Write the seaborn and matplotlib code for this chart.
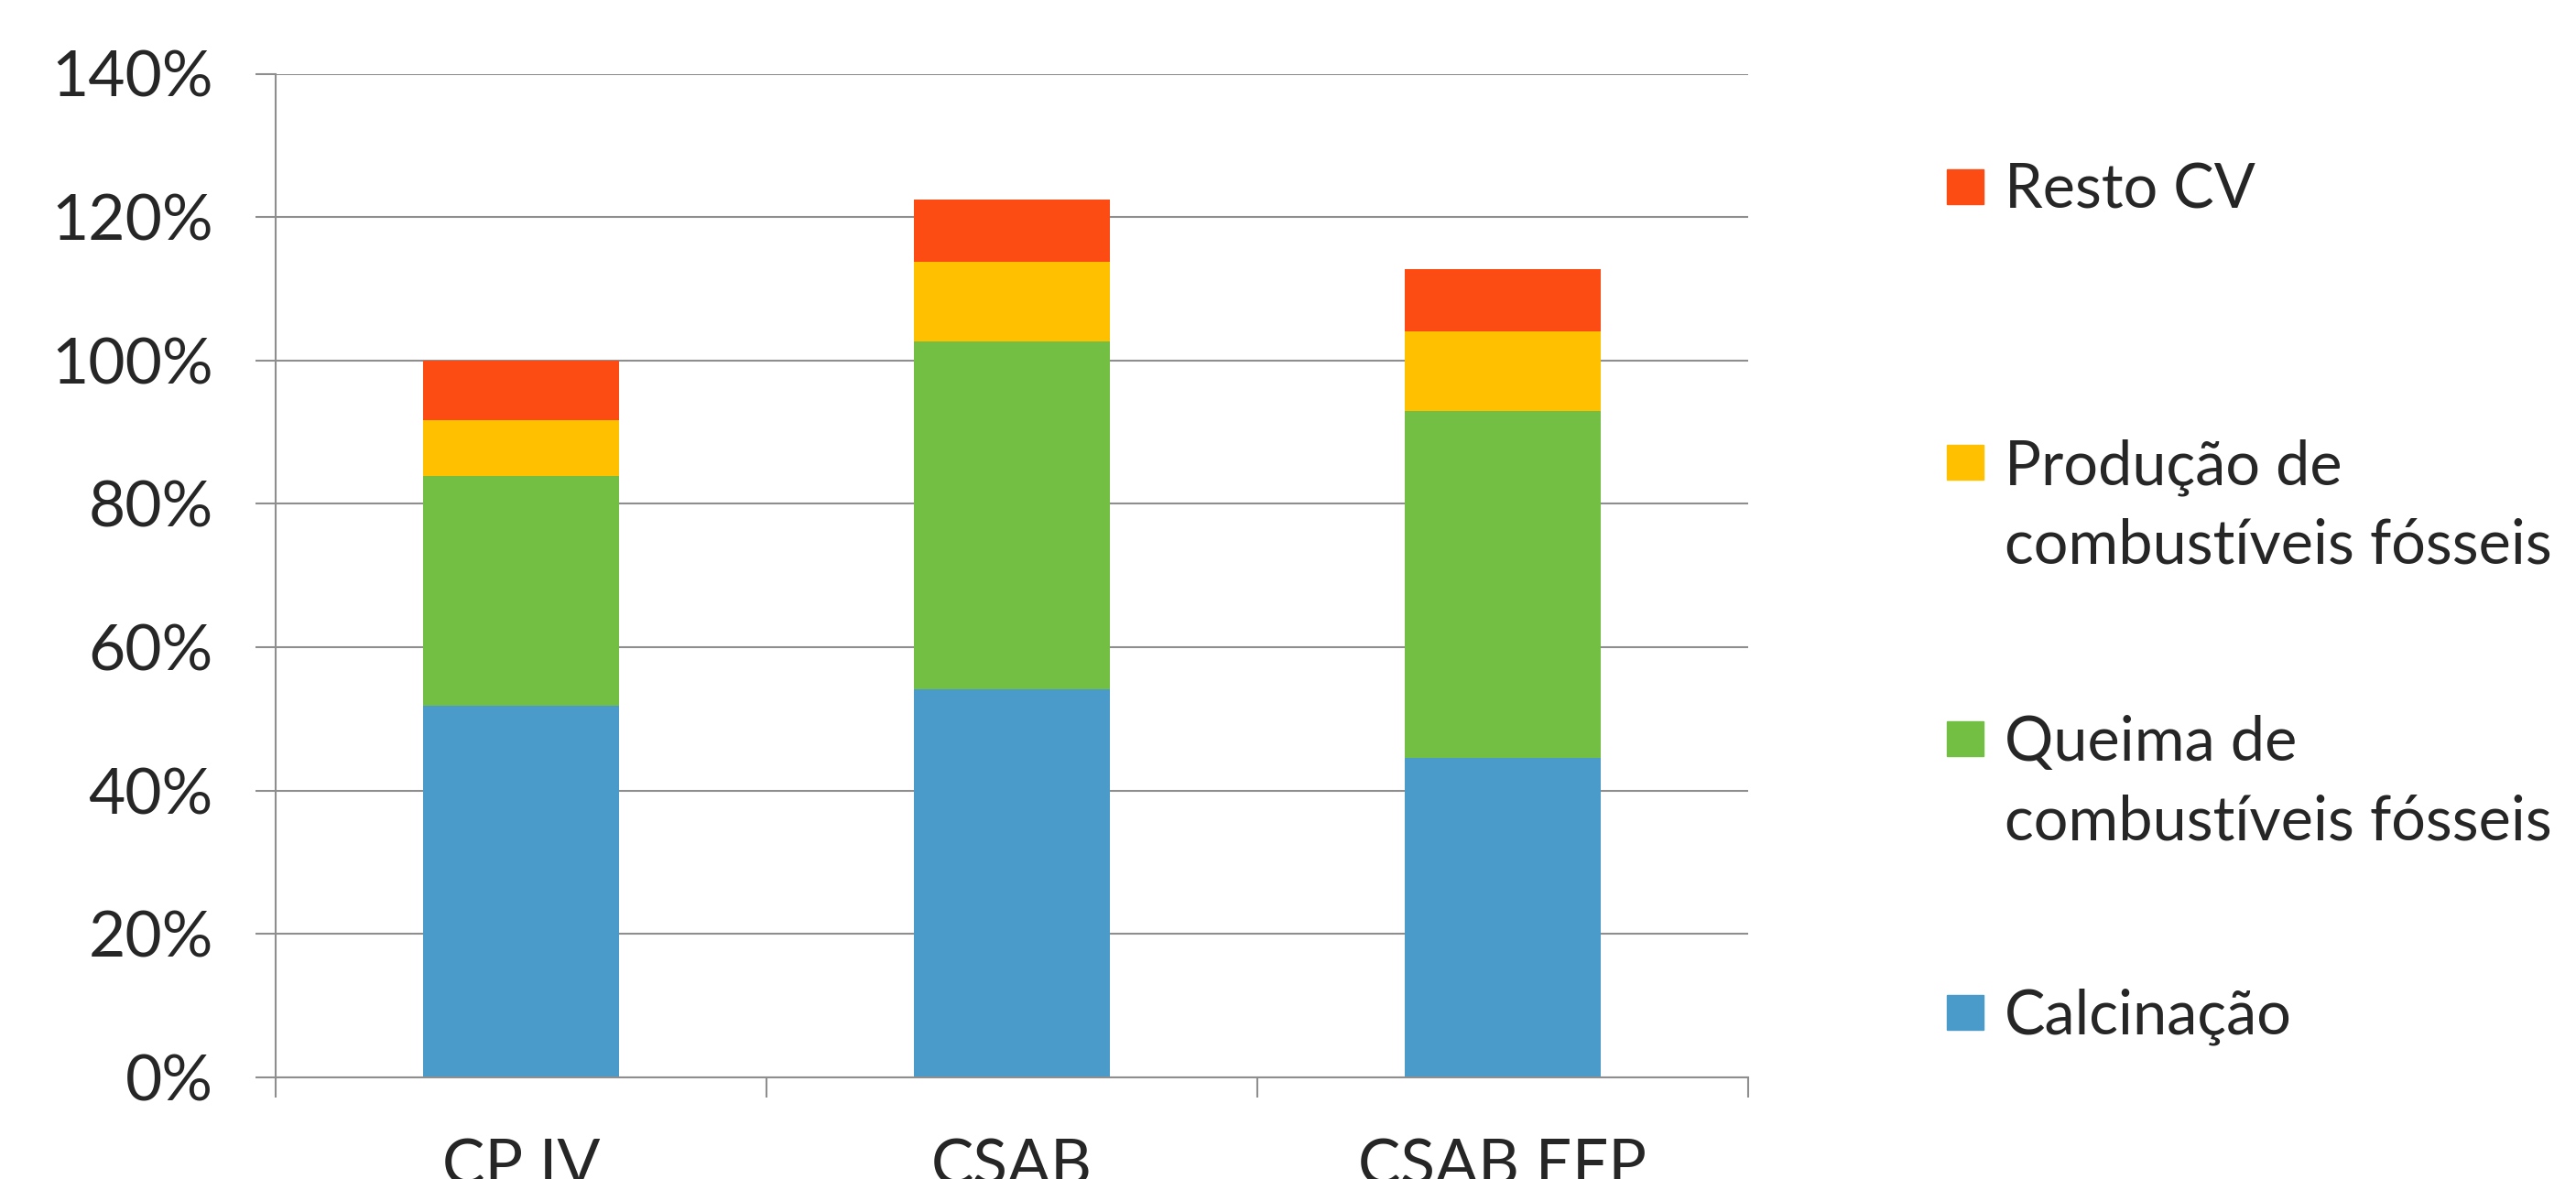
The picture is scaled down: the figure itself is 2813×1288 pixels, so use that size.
import matplotlib
matplotlib.use('Agg')
import matplotlib.pyplot as plt
import matplotlib.patches as mpatches
import seaborn as sns
import pandas as pd
import numpy as np

categories = ['CP IV', 'CSAB', 'CSAB EFP']
series = ['Calcinação', 'Queima de\ncombustíveis fósseis',
          'Produção de\ncombustíveis fósseis', 'Resto CV']
calcinacao = [51.8, 54.1, 44.5]
queima = [32.1, 48.6, 48.5]
producao = [7.8, 11.1, 11.1]
resto = [8.3, 8.6, 8.6]
colors = ['#4A9BC9', '#72BF44', '#FFC000', '#FC4C14']

sns.set_style('white')
plt.rcParams['font.family'] = ['Lato', 'DejaVu Sans']

values = np.array([calcinacao, queima, producao, resto])
cum = values.cumsum(axis=0)
df = pd.DataFrame({'cat': categories * 4,
                   'serie': np.repeat(range(4), 3),
                   'total': cum.flatten()})

fig = plt.figure(figsize=(28.13, 12.88), dpi=100)
ax = fig.add_axes([0.107, 0.0862, 0.5716, 0.8513])

grid_c = '#8E8E8E'
ax.set_axisbelow(True)
ax.yaxis.grid(True, color=grid_c, linewidth=1.5)

# draw cumulative totals from top to bottom so lower segments cover upper
for i in range(3, -1, -1):
    sub = df[df['serie'] == i]
    sns.barplot(data=sub, x='cat', y='total', color=colors[i], width=0.4,
                saturation=1, ax=ax, zorder=2, order=categories, linewidth=0)

ax.set_xlim(-0.5, 2.5)
ax.set_ylim(0, 140)
ax.set_yticks(range(0, 141, 20))
ax.set_yticklabels([f'{v}%' for v in range(0, 141, 20)])
ax.set_xticks([-0.5, 0.5, 1.5, 2.5])
ax.set_xticklabels([])
ax.set_xticks([0, 1, 2], minor=True)
ax.set_xticklabels(categories, minor=True)
ax.set_xlabel('')
ax.set_ylabel('')

ax.tick_params(axis='y', which='major', length=16, width=1.5, color=grid_c,
               labelsize=50, pad=33, left=True)
ax.tick_params(axis='x', which='major', length=16, width=1.5, color=grid_c,
               bottom=True)
ax.tick_params(axis='x', which='minor', length=0, labelsize=50, pad=48)

for s in ['top', 'right']:
    ax.spines[s].set_visible(False)
for s in ['left', 'bottom']:
    ax.spines[s].set_color(grid_c)
    ax.spines[s].set_linewidth(1.5)

# legend, top to bottom: Resto, Produção, Queima, Calcinação
W, H = 2813, 1288
baselines = [228, 529, 831, 1130]
order = [3, 2, 1, 0]
for b, i in zip(baselines, order):
    fig.add_artist(mpatches.Rectangle((2126 / W, 1 - (b - 5) / H), 40 / W, 38 / H,
                                      transform=fig.transFigure, color=colors[i]))
    for k, line in enumerate(series[i].split('\n')):
        fig.text(2189 / W, 1 - (b + 86.6 * k) / H, line, fontsize=48,
                 va='baseline', ha='left')

fig.savefig('out.png', dpi=100)
